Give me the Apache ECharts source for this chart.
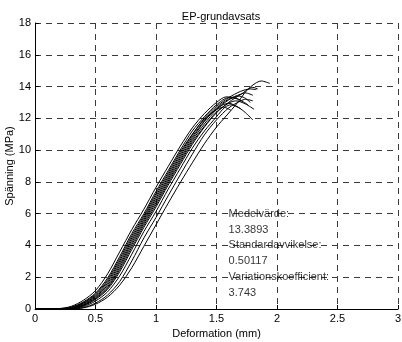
<!DOCTYPE html>
<html>
<head>
<meta charset="utf-8">
<script src="https://cdn.jsdelivr.net/npm/echarts@6/dist/echarts.min.js"></script>
<style>
  html, body { margin: 0; padding: 0; background: #fff; }
  #chart { width: 402px; height: 342px; }
</style>
</head>
<body>
<div id="chart"></div>
<script>
// Stress–deformation curves for each test specimen: [deformation (mm), stress (MPa)]
const prov1 = [[0,0],[0.2,0.03],[0.3,0.17],[0.4,0.55],[0.5,1.16],[0.6,2.21],[0.7,3.6],[0.8,5.0],[0.9,6.28],[1.0,7.66],[1.1,8.96],[1.2,10.24],[1.3,11.4],[1.4,12.3],[1.5,13.0],[1.58,13.35],[1.65,13.3],[1.72,13.05]];
const prov2 = [[0,0],[0.2,0.02],[0.3,0.12],[0.4,0.45],[0.5,1.0],[0.6,1.95],[0.7,3.3],[0.8,4.75],[0.9,6.0],[1.0,7.4],[1.1,8.7],[1.2,10.0],[1.3,11.2],[1.4,12.1],[1.5,12.85],[1.6,13.3],[1.68,13.2],[1.76,12.85]];
const prov3 = [[0,0],[0.2,0.01],[0.3,0.09],[0.4,0.37],[0.5,0.88],[0.6,1.73],[0.7,3.02],[0.8,4.47],[0.9,5.76],[1.0,7.12],[1.1,8.44],[1.2,9.74],[1.3,10.96],[1.4,12.0],[1.5,12.75],[1.6,13.3],[1.7,13.7],[1.78,13.85],[1.83,13.8]];
const prov4 = [[0,0],[0.2,0.01],[0.3,0.08],[0.4,0.33],[0.5,0.82],[0.6,1.62],[0.7,2.88],[0.8,4.33],[0.9,5.64],[1.0,6.98],[1.1,8.31],[1.2,9.61],[1.3,10.84],[1.4,11.85],[1.5,12.6],[1.6,12.95],[1.68,12.7],[1.74,12.35],[1.8,11.9]];
const prov5 = [[0,0],[0.2,0.01],[0.3,0.07],[0.4,0.29],[0.5,0.76],[0.6,1.51],[0.7,2.74],[0.8,4.19],[0.9,5.52],[1.0,6.84],[1.1,8.18],[1.2,9.48],[1.3,10.72],[1.4,11.8],[1.5,12.65],[1.6,13.2],[1.7,13.52],[1.74,13.6],[1.8,13.45]];
const prov6 = [[0,0],[0.2,0.01],[0.3,0.05],[0.4,0.25],[0.5,0.7],[0.6,1.4],[0.7,2.6],[0.8,4.05],[0.9,5.4],[1.0,6.7],[1.1,8.05],[1.2,9.35],[1.3,10.6],[1.4,11.65],[1.5,12.55],[1.6,13.15],[1.68,13.4],[1.73,13.3],[1.78,13.0]];
const prov7 = [[0,0],[0.2,0.0],[0.3,0.04],[0.4,0.22],[0.5,0.65],[0.6,1.32],[0.7,2.47],[0.8,3.9],[0.9,5.27],[1.0,6.56],[1.1,7.92],[1.2,9.22],[1.3,10.48],[1.4,11.5],[1.5,12.4],[1.6,12.95],[1.66,13.1],[1.74,12.9],[1.81,12.57]];
const prov8 = [[0,0],[0.2,0.0],[0.3,0.04],[0.4,0.2],[0.5,0.6],[0.6,1.24],[0.7,2.34],[0.8,3.75],[0.9,5.14],[1.0,6.42],[1.1,7.79],[1.2,9.09],[1.3,10.36],[1.4,11.45],[1.5,12.35],[1.6,13.0],[1.7,13.5],[1.8,13.95],[1.84,13.85]];
const prov9 = [[0,0],[0.2,0.0],[0.3,0.02],[0.4,0.15],[0.5,0.5],[0.6,1.08],[0.7,2.08],[0.8,3.45],[0.9,4.88],[1.0,6.14],[1.1,7.53],[1.2,8.83],[1.3,10.12],[1.4,11.2],[1.5,12.1],[1.57,12.7],[1.62,12.85],[1.7,12.6]];
const prov10 = [[0,0],[0.2,0.0],[0.3,0.01],[0.4,0.09],[0.5,0.37],[0.6,0.88],[0.7,1.73],[0.8,3.02],[0.9,4.47],[1.0,5.76],[1.1,7.12],[1.2,8.44],[1.3,9.74],[1.4,10.96],[1.5,11.9],[1.6,12.65],[1.7,13.1],[1.74,13.2],[1.8,13.1]];
const prov11 = [[0,0],[0.2,0.0],[0.3,0.01],[0.4,0.07],[0.5,0.3],[0.6,0.75],[0.7,1.5],[0.8,2.6],[0.9,3.95],[1.0,5.3],[1.1,6.65],[1.2,7.95],[1.3,9.2],[1.4,10.4],[1.5,11.45],[1.58,12.15],[1.67,12.95],[1.75,13.75],[1.82,14.2],[1.87,14.35],[1.94,14.2]];
const prov12 = [[0,0],[0.2,0.02],[0.3,0.1],[0.4,0.41],[0.5,0.94],[0.6,1.84],[0.7,3.16],[0.8,4.61],[0.9,5.88],[1.0,7.26],[1.1,8.57],[1.2,9.87],[1.3,11.0],[1.4,11.95],[1.5,12.55],[1.56,12.7],[1.62,12.5]];
const specimens = [prov1, prov2, prov3, prov4, prov5, prov6, prov7, prov8, prov9, prov10, prov11, prov12];

// Summary statistics text, placed in data coordinates
const statLabels = ['Medelvärde:', '13.3893', 'Standardavvikelse:', '0.50117', 'Variationskoefficient:', '3.743'];
const statX = [1.6, 1.6, 1.6, 1.6, 1.6, 1.6];
const statY = [6, 5, 4, 3, 2, 1];

// Axis settings
const xMin = 0, xMax = 3, xStep = 0.5;
const yMin = 0, yMax = 18, yStep = 2;

const FONT = 'Liberation Sans, Arial, sans-serif';
const gridLine = { show: true, lineStyle: { color: '#3a3a3a', width: 1, type: [6, 5] } };

const chart = echarts.init(document.getElementById('chart'), null, { renderer: 'canvas' });

const curveSeries = specimens.map((d, i) => ({
  type: 'line',
  name: 'Prov ' + (i + 1),
  data: d,
  showSymbol: false,
  smooth: 0.3,
  silent: true,
  lineStyle: { color: '#000', width: 1 },
  z: 3
}));

const statSeries = {
  type: 'scatter',
  symbolSize: 0,
  silent: true,
  data: statLabels.map((t, i) => ({ name: t, value: [statX[i], statY[i]] })),
  label: {
    show: true,
    position: 'right',
    distance: 0,
    formatter: '{b}',
    color: '#000',
    fontSize: 11,
    fontFamily: FONT
  },
  z: 4
};

chart.setOption({
  animation: false,
  backgroundColor: '#fff',
  title: {
    text: 'EP-grundavsats',
    left: 216,
    top: 6,
    textAlign: 'center',
    textStyle: { fontSize: 11, fontWeight: 'normal', color: '#000', fontFamily: FONT }
  },
  grid: { left: 35, right: 4, top: 23, bottom: 33, containLabel: false, outerBoundsMode: 'none' },
  xAxis: {
    type: 'value',
    min: xMin, max: xMax, interval: xStep,
    name: 'Deformation (mm)',
    nameLocation: 'middle',
    nameGap: 19,
    nameMoveOverlap: false,
    nameTextStyle: { fontSize: 11, color: '#000', fontFamily: FONT },
    axisLine: { show: true, onZero: false, lineStyle: { color: '#000', width: 1 } },
    axisTick: { show: true, inside: true, length: 4, lineStyle: { color: '#000' } },
    axisLabel: { color: '#000', fontSize: 11, margin: 4, fontFamily: FONT },
    splitLine: gridLine
  },
  yAxis: {
    type: 'value',
    min: yMin, max: yMax, interval: yStep,
    name: 'Spänning (MPa)',
    nameLocation: 'middle',
    nameGap: 20,
    nameMoveOverlap: false,
    nameTextStyle: { fontSize: 11, color: '#000', fontFamily: FONT },
    axisLine: { show: true, onZero: false, lineStyle: { color: '#000', width: 1 } },
    axisTick: { show: true, inside: true, length: 4, lineStyle: { color: '#000' } },
    axisLabel: { color: '#000', fontSize: 11, margin: 4, fontFamily: FONT },
    splitLine: gridLine
  },
  series: curveSeries.concat([statSeries])
});
</script>
</body>
</html>
